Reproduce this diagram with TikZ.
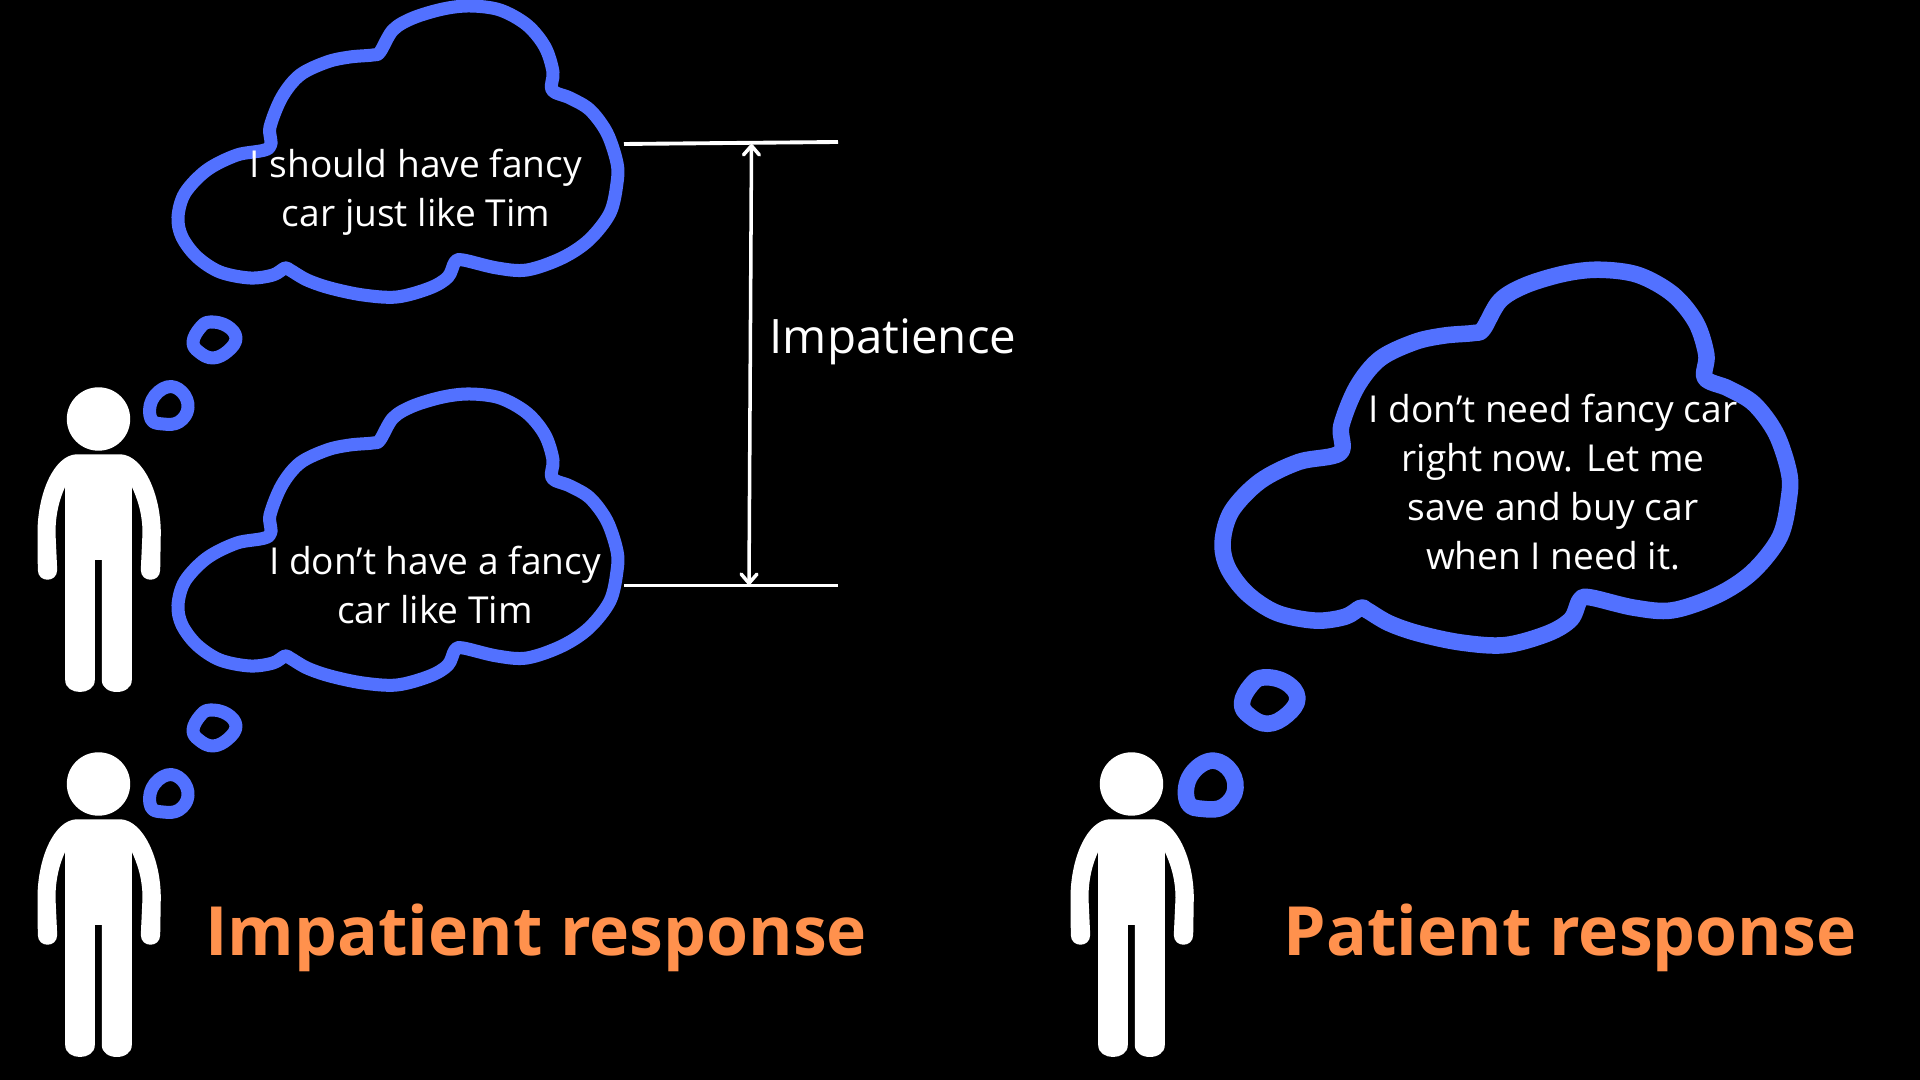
\documentclass[tikz,border=0pt]{standalone}
\usepackage{fontspec}
\setmainfont{Open Sans}
\usepackage{tikz}
\usetikzlibrary{arrows.meta}

\definecolor{cloudblue}{HTML}{5271FF}
\definecolor{titleorange}{HTML}{FF914D}

\tikzset{
	roughline/.style={cloudblue, line join=round},
	thought/.pic={
		\draw [roughline] plot [smooth cycle, tension=0.55] coordinates {
			(269,148) (270,127) (282,97) (300,75) (327,62) (350,57) (373,55) (380,52)
			(393,30) (413,18) (443,9) (470,6) (500,10) (527,25) (545,47) (553,72)
			(552,90) (570,98) (590,110) (607,133) (617,163) (617,183) (610,213) (589,240)
			(562,258) (527,270) (497,268) (463,260) (455,262) (448,277) (430,288) (397,297)
			(363,295) (330,288) (307,280) (290,270) (285,268) (273,275) (250,278) (220,272)
			(197,257) (182,237) (178,217) (185,193) (207,170) (237,155)
		};
		\draw [roughline] plot [smooth cycle, tension=0.7] coordinates {
			(210,322) (227,326) (236,338) (228,351) (213,358) (199,352) (193,342) (200,328)
		};
		\draw [roughline] plot [smooth cycle, tension=0.7] coordinates {
			(167,387) (182,392) (188,408) (179,422) (163,424) (151,419) (152,400)
		};
	},
	person/.pic={
		\fill [white] (0,0) circle [radius=31.7];
		\fill [white] (-22.5,35.3) -- (22.5,35.3)
			.. controls (45,37) and (62.3,75) .. (62.3,114) -- (61.7,151)
			.. controls (61.5,164) and (42.5,164) .. (42.3,151) -- (44,114)
			.. controls (44,95) and (39,80) .. (33.3,67.7) -- (33.3,261)
			.. controls (33.3,277) and (3.3,277) .. (3.3,261) -- (3.3,141) -- (-3.7,141) -- (-3.7,261)
			.. controls (-3.7,277) and (-33.3,277) .. (-33.3,261) -- (-33.3,67.7)
			.. controls (-39,80) and (-43,95) .. (-43,114) -- (-41.3,151)
			.. controls (-41.5,164) and (-60.5,164) .. (-60.7,151) -- (-61,114)
			.. controls (-61,75) and (-45,37) .. (-22.5,35.3) -- cycle;
	},
	saying/.style={white, align=center, font=\fontsize{10.55}{14}\selectfont},
	heading/.style={titleorange, font=\fontsize{19.3}{23}\selectfont\bfseries},
	endtip/.tip={Straight Barb[round, length=2.6pt, width=4.5pt]}
}

\begin{document}
\begin{tikzpicture}[x=0.01cm, y=-0.01cm]
		\useasboundingbox (0,0) rectangle (1920,1080);
		\fill [black] (-5,-5) rectangle (1925,1085);

		\pic [line width=3.7pt] at (0,0) {thought};
		\pic [line width=3.7pt] at (0,388) {thought};
		\pic [line width=4.7pt, scale=1.29] at (993,262) {thought};

		\pic at (98.5,419) {person};
		\pic at (98.5,784) {person};
		\pic at (1131.5,784) {person};

		\node (shouldtext) [saying] at (416,192.5) {I should have fancy\\car just like Tim};
		\node (donttext) [saying] at (435,585) {I don’t have a fancy\\car like Tim};
		\node (patienttext) [saying] at (1553,482) {I don’t need fancy car\\right now. Let me\\save and buy car\\when I need it.};

		\node (gaplabel) [white, font=\fontsize{13.5}{16}\selectfont] at (893,342) {Impatience};
		\node (impatienthead) [heading] at (536,937.5) {Impatient response};
		\node (patienthead) [heading] at (1570,937.5) {Patient response};

		\coordinate (topleft) at (624,144);
		\coordinate (topright) at (838,142);
		\coordinate (botleft) at (624,585.5);
		\coordinate (botright) at (838,585.5);
		\coordinate (arrowtop) at (751.5,144);
		\coordinate (arrowbot) at (749,585);

		\draw [white, line width=1.1pt] (topleft) -- (topright);
		\draw [white, line width=1.1pt] (botleft) -- (botright);
		\draw [white, line width=1pt, endtip-endtip] (arrowtop) -- (arrowbot);
\end{tikzpicture}
\end{document}
